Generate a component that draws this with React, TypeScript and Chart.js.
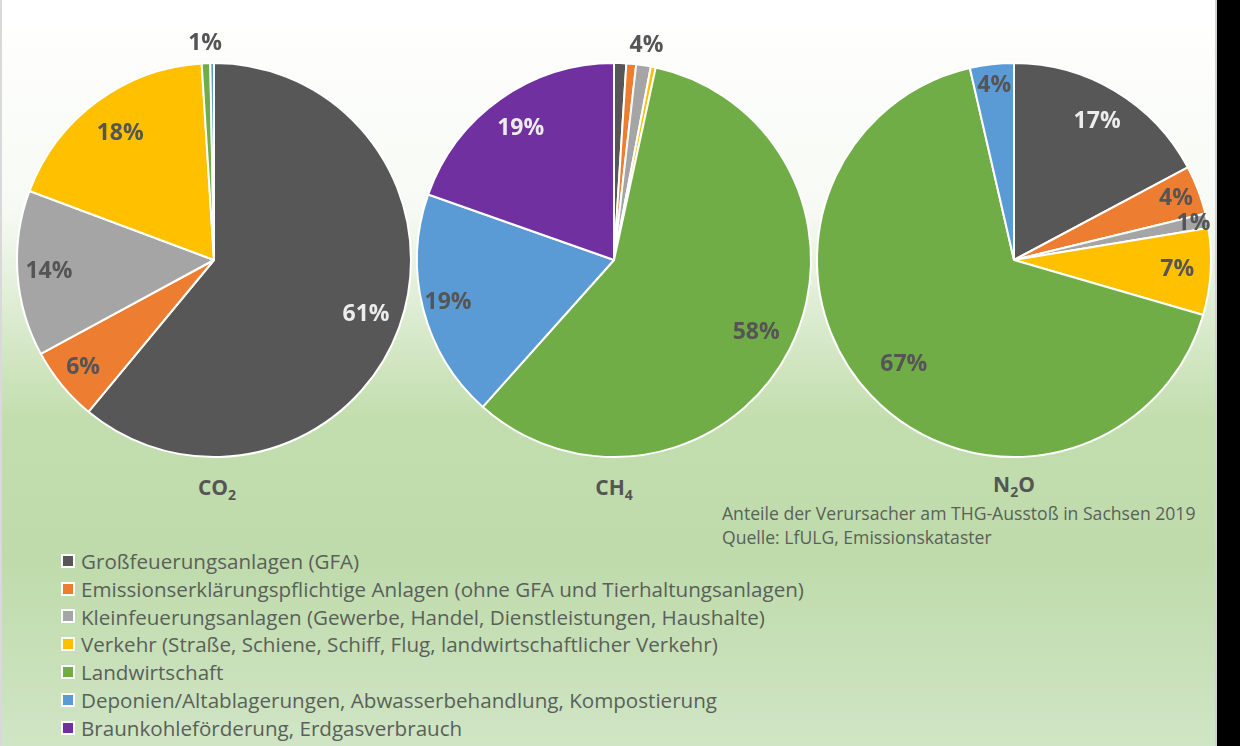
import React, { useEffect, useRef } from 'react';
import { Chart, registerables } from 'chart.js';

Chart.register(...registerables);

const categories = [
  'Großfeuerungsanlagen (GFA)',
  'Emissionserklärungspflichtige Anlagen (ohne GFA und Tierhaltungsanlagen)',
  'Kleinfeuerungsanlagen (Gewerbe, Handel, Dienstleistungen, Haushalte)',
  'Verkehr (Straße, Schiene, Schiff, Flug, landwirtschaftlicher Verkehr)',
  'Landwirtschaft',
  'Deponien/Altablagerungen, Abwasserbehandlung, Kompostierung',
  'Braunkohleförderung, Erdgasverbrauch',
];

const sliceColors = ['#575757', '#ED7D31', '#A5A5A5', '#FFC000', '#70AD47', '#5B9BD5', '#7030A0'];

const co2Values = [61.0, 6.1, 13.6, 18.3, 0.7, 0.3, 0];
const co2Labels = ['61%', '6%', '14%', '18%', '1%', '', ''];

const ch4Values = [1.0, 0.8, 1.2, 0.4, 58.2, 18.8, 19.6];
const ch4Labels = ['', '', '4%', '', '58%', '19%', '19%'];

const n2oValues = [17.2, 4.0, 1.2, 7.1, 66.9, 3.6, 0];
const n2oLabels = ['17%', '4%', '1%', '7%', '67%', '4%', ''];

const sourceLines = [
  'Anteile der Verursacher am THG-Ausstoß in Sachsen 2019',
  'Quelle: LfULG, Emissionskataster',
];

const lightLabelSlices = [0, 6];

const labelPlugin = {
  id: 'sliceLabels',
  afterDatasetsDraw(chart: any, _args: any, opts: any) {
    const ctx = chart.ctx;
    const meta = chart.getDatasetMeta(0);
    meta.data.forEach((arc: any, i: number) => {
      const text = opts.texts[i];
      if (!text) return;
      const p = arc.getProps(['x', 'y', 'startAngle', 'endAngle', 'outerRadius'], true);
      const mid = (p.startAngle + p.endAngle) / 2;
      const r = p.outerRadius * opts.radii[i];
      ctx.save();
      ctx.font = 'bold 23px "Open Sans"';
      ctx.fillStyle = lightLabelSlices.includes(i) && opts.radii[i] < 1 ? '#ececec' : '#555555';
      ctx.textAlign = 'center';
      ctx.textBaseline = 'middle';
      ctx.fillText(text, p.x + Math.cos(mid) * r, p.y + Math.sin(mid) * r);
      ctx.restore();
    });
  },
};

function Pie(props: { values: number[]; texts: string[]; radii: number[]; left: number; top: number }) {
  const ref = useRef<HTMLCanvasElement>(null);
  useEffect(() => {
    if (!ref.current) return;
    const chart = new Chart(ref.current, {
      type: 'pie',
      data: {
        labels: categories,
        datasets: [
          {
            data: props.values,
            backgroundColor: sliceColors,
            borderColor: '#ffffff',
            borderWidth: 2,
          },
        ],
      },
      options: {
        responsive: false,
        animation: false,
        layout: { padding: { top: 40, bottom: 10, left: 10, right: 10 } },
        plugins: {
          legend: { display: false },
          tooltip: { enabled: false },
          // @ts-ignore
          sliceLabels: { texts: props.texts, radii: props.radii },
        },
      },
      plugins: [labelPlugin],
    } as any);
    return () => chart.destroy();
  }, []);
  return (
    <canvas
      ref={ref}
      width={416}
      height={446}
      style={{ position: 'absolute', left: props.left, top: props.top, width: 416, height: 446 }}
    />
  );
}

const titleStyle: React.CSSProperties = {
  position: 'absolute',
  width: 200,
  top: 474,
  textAlign: 'center',
  fontWeight: 700,
  fontSize: 21,
  color: '#555555',
  lineHeight: '26px',
};
const subStyle: React.CSSProperties = { fontSize: 14, verticalAlign: -5, lineHeight: 0 };

export default function App() {
  return (
    <div
      style={{
        position: 'fixed',
        left: 0,
        top: 0,
        width: 1240,
        height: 746,
        overflow: 'hidden',
        fontFamily: '"Open Sans", sans-serif',
        background:
          'linear-gradient(to bottom, #ffffff 0%, #f7faf4 28%, #dcecd1 42%, #c3deae 56%, #bfdbab 75%, #d0e5c5 100%)',
        borderLeft: '2px solid #d9d9d9',
        boxSizing: 'border-box',
      }}
    >
      <Pie values={co2Values} texts={co2Labels} radii={[0.82, 0.86, 0.84, 0.8, 1.1, 1, 1]} left={4} top={22} />
      <Pie values={ch4Values} texts={ch4Labels} radii={[1, 1, 1.1, 1, 0.81, 0.87, 0.82]} left={404} top={22} />
      <Pie values={n2oValues} texts={n2oLabels} radii={[0.82, 0.88, 0.93, 0.83, 0.77, 0.89, 1]} left={804} top={22} />

      <div style={{ ...titleStyle, left: 115 }}>
        CO<sub style={subStyle}>2</sub>
      </div>
      <div style={{ ...titleStyle, left: 512 }}>
        CH<sub style={subStyle}>4</sub>
      </div>
      <div style={{ ...titleStyle, left: 912, top: 471 }}>
        N<sub style={subStyle}>2</sub>O
      </div>

      <div style={{ position: 'absolute', left: 720, top: 501, fontSize: 17.6, color: '#5a5f5a', lineHeight: '24px' }}>
        {sourceLines.map((s) => (
          <div key={s}>{s}</div>
        ))}
      </div>

      <div style={{ position: 'absolute', left: 59, top: 547 }}>
        {categories.map((c, i) => (
          <div key={c} style={{ display: 'flex', alignItems: 'center', height: 27.8 }}>
            <span
              style={{
                width: 10,
                height: 10,
                background: sliceColors[i],
                border: '2px solid #ffffff',
                marginRight: 6,
                flex: 'none',
              }}
            />
            <span style={{ fontSize: 20.6, color: '#5a5f5a', whiteSpace: 'nowrap' }}>{c}</span>
          </div>
        ))}
      </div>

      <div style={{ position: 'absolute', left: 1213, top: 0, width: 2, height: 746, background: '#d0d0d0' }} />
      <div style={{ position: 'absolute', left: 1215, top: 0, width: 25, height: 746, background: '#000000' }} />
    </div>
  );
}
